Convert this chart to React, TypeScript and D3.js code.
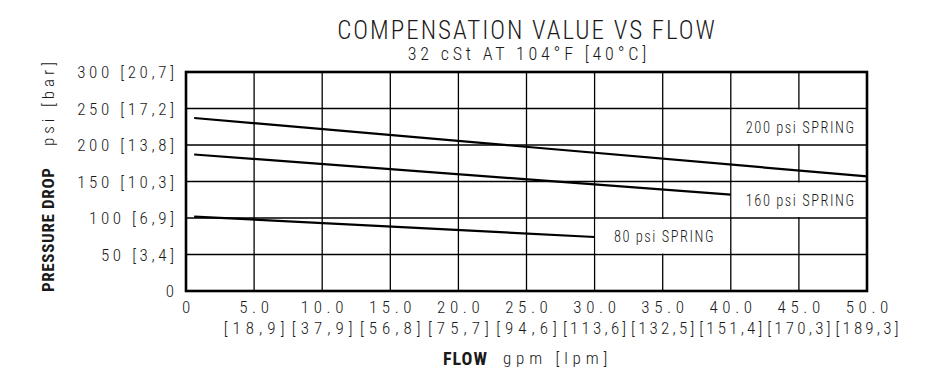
import React from "react";
import * as d3 from "d3";

const flowTicks = [0, 5, 10, 15, 20, 25, 30, 35, 40, 45, 50];
const flowTickLabels = ["0", "5.0", "10.0", "15.0", "20.0", "25.0", "30.0", "35.0", "40.0", "45.0", "50.0"];
const lpmTickLabels = ["", "[18,9]", "[37,9]", "[56,8]", "[75,7]", "[94,6]", "[113,6]", "[132,5]", "[151,4]", "[170,3]", "[189,3]"];
const pressureTicks = [0, 50, 100, 150, 200, 250, 300];
const pressureTickLabels = ["0", "50 [3,4]", "100 [6,9]", "150 [10,3]", "200 [13,8]", "250 [17,2]", "300 [20,7]"];

const spring200Flow = [0.6, 50];
const spring200Psi = [237, 157];
const spring160Flow = [0.6, 40];
const spring160Psi = [187, 132];
const spring80Flow = [0.6, 30];
const spring80Psi = [102, 74];

const seriesNames = ["200 psi SPRING", "160 psi SPRING", "80 psi SPRING"];
// label cell: [flow0, flow1, psi0, psi1]
const labelCells = [
  [40, 50, 200, 250],
  [40, 50, 100, 150],
  [30, 40, 50, 100],
];

const W = 939;
const H = 382;
const FONT = "'Roboto Condensed', Roboto, sans-serif";

type TProps = {
  x: number;
  y: number;
  anchor?: "start" | "middle" | "end";
  size: number;
  ls?: number;
  weight?: number;
  rotate?: number;
  sx?: number;
  len?: number;
  children: React.ReactNode;
};

function T({ x, y, anchor = "start", size, ls = 0, weight = 300, rotate = 0, sx = 1, len, children }: TProps) {
  // compensate the trailing letter-spacing so that anchors line up with the visible glyphs
  const off = len ? 0 : anchor === "middle" ? ls / 2 : anchor === "end" ? ls : 0;
  return (
    <g transform={`translate(${x},${y}) rotate(${rotate}) scale(${sx},1)`}>
      <text
        x={off}
        y={0}
        textAnchor={anchor}
        dominantBaseline="central"
        fontSize={size}
        letterSpacing={len ? 0 : ls}
        fontWeight={weight}
        fontFamily={FONT}
        fill="#1a1a1a"
        textLength={len}
        lengthAdjust={len ? "spacing" : undefined}
      >
        {children}
      </text>
    </g>
  );
}

export default function App() {
  const x = d3.scaleLinear().domain([0, 50]).range([186, 867]);
  const y = d3.scaleLinear().domain([0, 300]).range([291, 72]);
  const line = d3
    .line<[number, number]>()
    .x((d) => x(d[0]))
    .y((d) => y(d[1]));

  const series = [
    d3.zip(spring200Flow, spring200Psi) as [number, number][],
    d3.zip(spring160Flow, spring160Psi) as [number, number][],
    d3.zip(spring80Flow, spring80Psi) as [number, number][],
  ];

  return (
    <svg width={W} height={H} style={{ position: "absolute", left: 0, top: 0, background: "#fff" }}>
      <rect x={0} y={0} width={W} height={H} fill="#fff" />
      {/* grid */}
      {flowTicks.slice(1, -1).map((t) => (
        <line key={"gx" + t} x1={x(t)} x2={x(t)} y1={y(0)} y2={y(300)} stroke="#000" strokeWidth={1.3} />
      ))}
      {pressureTicks.slice(1, -1).map((t) => (
        <line key={"gy" + t} x1={x(0)} x2={x(50)} y1={y(t)} y2={y(t)} stroke="#000" strokeWidth={1.3} />
      ))}
      {/* series lines */}
      {series.map((s, i) => (
        <path key={"s" + i} d={line(s) || ""} fill="none" stroke="#000" strokeWidth={2.2} />
      ))}
      {/* labels with white boxes */}
      {labelCells.map((c, i) => (
        <g key={"l" + i}>
          <rect
            x={x(c[0]) + 1}
            y={y(c[3]) + 1}
            width={x(c[1]) - x(c[0]) - 2}
            height={y(c[2]) - y(c[3]) - 2}
            fill="#fff"
          />
          <T x={(x(c[0]) + x(c[1])) / 2 + 1} y={(y(c[2]) + y(c[3])) / 2} anchor="middle" size={17} ls={1.8} sx={0.85}>
            {seriesNames[i]}
          </T>
        </g>
      ))}
      {/* frame */}
      <rect x={x(0)} y={y(300)} width={x(50) - x(0)} height={y(0) - y(300)} fill="none" stroke="#000" strokeWidth={2.6} />
      {/* y ticks */}
      {pressureTicks.map((t, i) => (
        <T key={"yt" + t} x={174} y={y(t)} anchor="end" size={17} ls={3.6}>
          {pressureTickLabels[i]}
        </T>
      ))}
      {/* x ticks */}
      {flowTicks.map((t, i) => (
        <g key={"xt" + t}>
          <T x={x(t)} y={306.5} anchor="middle" size={17} ls={4.6}>
            {flowTickLabels[i]}
          </T>
          <T x={x(t)} y={327.5} anchor="middle" size={17} ls={lpmTickLabels[i].length >= 7 ? 3.2 : 5}>
            {lpmTickLabels[i]}
          </T>
        </g>
      ))}
      {/* titles */}
      <T x={526} y={30} anchor="middle" size={25} ls={2}>
        COMPENSATION VALUE VS FLOW
      </T>
      <T x={527} y={53} anchor="middle" size={18} ls={3.8}>
        32 cSt AT 104°F [40°C]
      </T>
      <T x={443} y={358} anchor="start" size={18} ls={1} weight={700}>
        FLOW
      </T>
      <T x={503} y={358} anchor="start" size={17} ls={4.8}>
        gpm [lpm]
      </T>
      <T x={48} y={292} anchor="start" size={17} weight={700} rotate={-90} len={124}>
        PRESSURE DROP
      </T>
      <T x={48} y={146} anchor="start" size={17} rotate={-90} len={84}>
        psi [bar]
      </T>
    </svg>
  );
}
